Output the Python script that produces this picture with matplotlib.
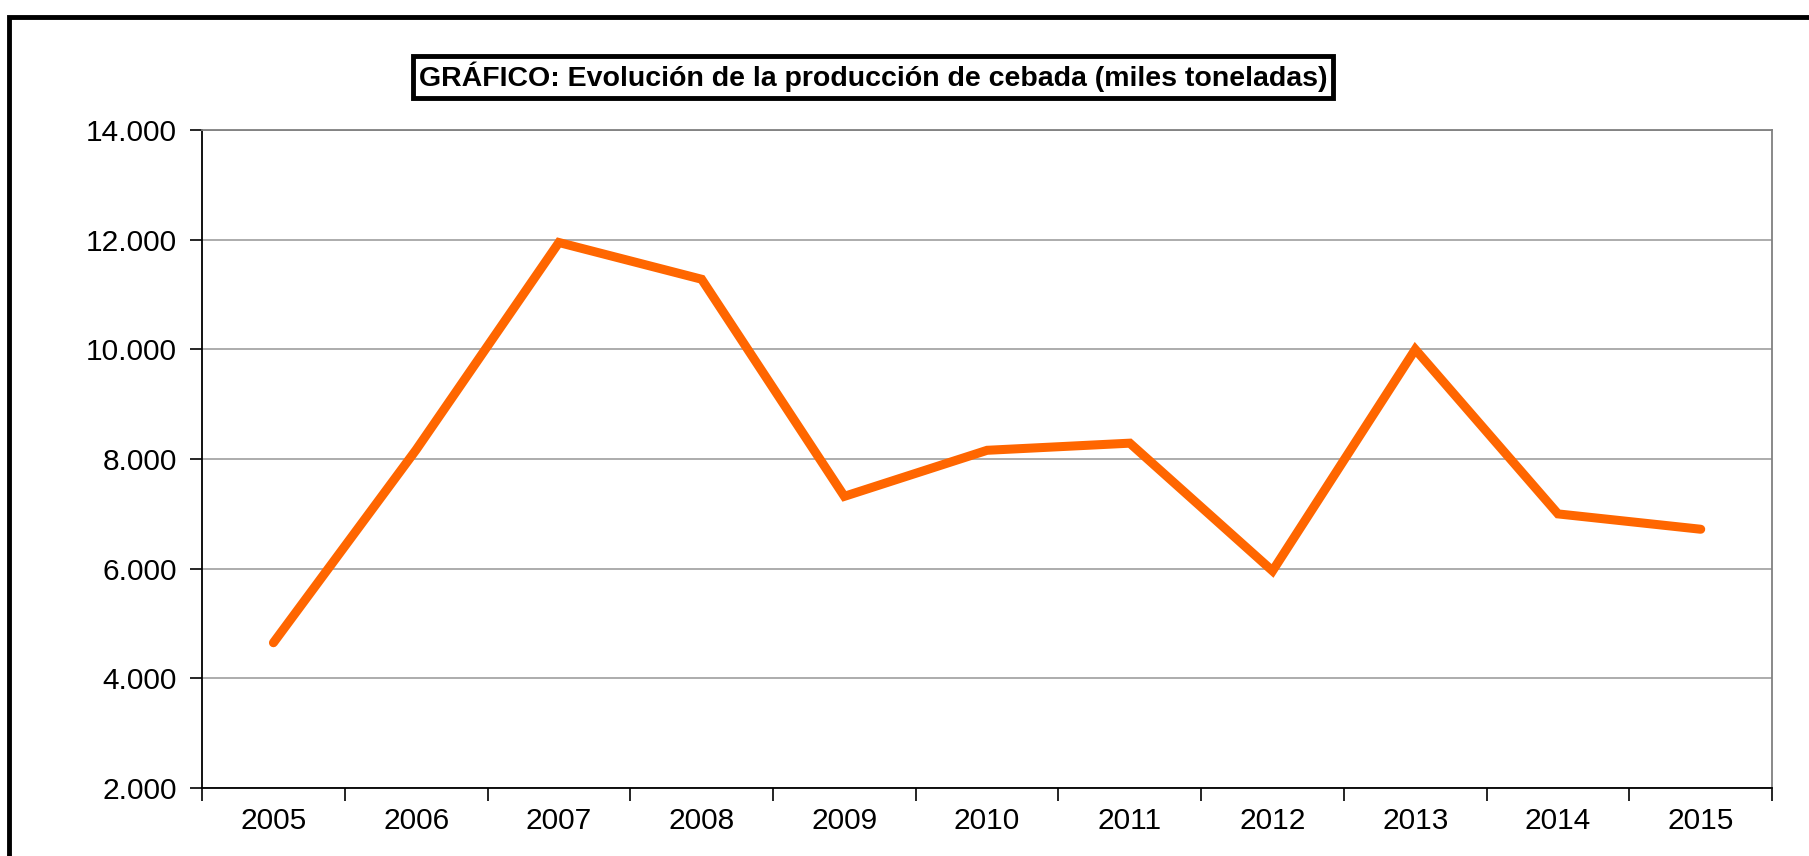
import numpy as np
import matplotlib.pyplot as plt
from matplotlib.patches import Rectangle
from matplotlib.ticker import FuncFormatter

plt.rcParams['font.family'] = ['Liberation Sans', 'DejaVu Sans']

# datos
años = ['2005', '2006', '2007', '2008', '2009', '2010',
        '2011', '2012', '2013', '2014', '2015']
produccion = [4650, 8170, 11950, 11280, 7320, 8160,
              8290, 5960, 10000, 7000, 6720]

fig = plt.figure(figsize=(18.09, 8.56), dpi=100)
ax = fig.add_axes([0.1117, 0.0794, 0.9796 - 0.1117, 0.848 - 0.0794])

x = np.arange(len(años))
ax.plot(x, produccion, color='#FF6600', lw=6.5, solid_capstyle='round',
        solid_joinstyle='miter', zorder=3)

ax.set_xlim(-0.5, len(años) - 0.5)
ax.set_ylim(2000, 14000)
ax.set_yticks(np.arange(2000, 14001, 2000))
ax.yaxis.set_major_formatter(FuncFormatter(lambda v, p: f'{int(v):,}'.replace(',', '.')))
ax.grid(axis='y', color='#a6a6a6', lw=1.3, zorder=1)

fs = 21.5
ax.set_xticks(x)
ax.set_xticklabels(años)
ax.set_xticks(np.arange(-0.5, len(años)), minor=True)
ax.tick_params(axis='x', which='major', length=0, pad=14, labelsize=fs)
ax.tick_params(axis='x', which='minor', length=9, width=1.2, direction='out', color='black')
ax.tick_params(axis='y', length=9, width=1.2, direction='out', pad=9, labelsize=fs)

for s in ['top', 'right']:
    ax.spines[s].set_color('#808080')
    ax.spines[s].set_linewidth(1.3)
for s in ['left', 'bottom']:
    ax.spines[s].set_color('black')
    ax.spines[s].set_linewidth(1.3)

# marco exterior
fig.patches.append(Rectangle((9 / 1809, -0.2), 1.2, 1.2 - 17 / 856,
                             transform=fig.transFigure, fill=False,
                             ec='black', lw=3.5))

fig.text(0.4825, 0.910, 'GRÁFICO: Evolución de la producción de cebada (miles toneladas)',
         ha='center', va='center', fontsize=20.5, fontweight='bold',
         bbox=dict(boxstyle='square,pad=0.2', fc='white', ec='black', lw=3.5))

fig.savefig('out.png', dpi=100)
